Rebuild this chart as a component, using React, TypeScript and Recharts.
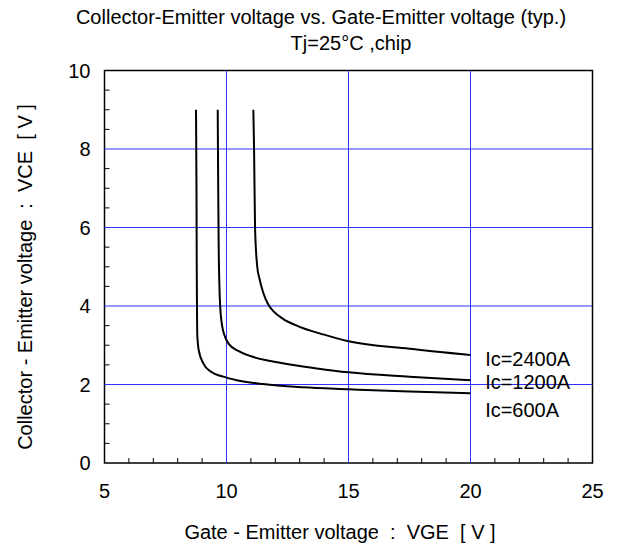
import React from 'react';
import {
  LineChart,
  Line,
  XAxis,
  YAxis,
  ReferenceLine,
  ReferenceArea,
  ReferenceDot,
} from 'recharts';

// axis ticks (minor + major)
const vgeTicks = [5, 6, 7, 8, 9, 10, 11, 12, 13, 14, 15, 16, 17, 18, 19, 20, 21, 22, 23, 24, 25];
const vceTicks = [0, 0.5, 1, 1.5, 2, 2.5, 3, 3.5, 4, 4.5, 5, 5.5, 6, 6.5, 7, 7.5, 8, 8.5, 9, 9.5, 10];
const vgeGrid = [10, 15, 20];
const vceGrid = [2, 4, 6, 8];

// Ic = 600A
const ic600Vge = [8.75, 8.77, 8.78, 8.79, 8.8, 8.86, 9.05, 9.35, 9.87, 10.42, 11.5, 13.14, 15.0, 17.5, 20.0];
const ic600Vce = [9.0, 7.0, 5.0, 4.0, 3.3, 2.88, 2.54, 2.33, 2.2, 2.11, 2.01, 1.93, 1.88, 1.82, 1.78];

// Ic = 1200A
const ic1200Vge = [9.64, 9.66, 9.68, 9.71, 9.75, 9.82, 9.92, 10.1, 10.5, 11.1, 11.8, 12.6, 13.7, 15.0, 17.5, 20.0];
const ic1200Vce = [9.0, 7.0, 5.5, 4.5, 3.9, 3.5, 3.25, 3.03, 2.85, 2.7, 2.6, 2.51, 2.41, 2.31, 2.2, 2.11];

// Ic = 2400A
const ic2400Vge = [11.1, 11.13, 11.17, 11.26, 11.35, 11.5, 11.7, 11.95, 12.3, 13.0, 14.0, 15.0, 17.5, 20.0];
const ic2400Vce = [9.0, 8.0, 6.0, 5.0, 4.7, 4.35, 4.05, 3.85, 3.68, 3.47, 3.27, 3.1, 2.91, 2.75];

const curveLabels = ['Ic=2400A', 'Ic=1200A', 'Ic=600A'];
const labelVge = [20.6, 20.6, 20.6];
const labelVce = [2.65, 2.06, 1.35];

const toPoints = (xs: number[], ys: number[]) => xs.map((x, i) => ({ vge: x, vce: ys[i] }));

const ic600 = toPoints(ic600Vge, ic600Vce);
const ic1200 = toPoints(ic1200Vge, ic1200Vce);
const ic2400 = toPoints(ic2400Vge, ic2400Vce);

const FONT = 'Arial, "Liberation Sans", sans-serif';
const GRID = '#3030ff';

function VgeTick({ x, y, payload }: any) {
  const v = payload.value;
  const major = v % 5 === 0;
  return (
    <g>
      {!major && <line x1={x} x2={x} y1={y} y2={y - 5} stroke="#000" strokeWidth={1} />}
      {major && (
        <text x={x} y={y + 35} textAnchor="middle" fontSize={20} fontFamily={FONT} fill="#000">
          {v}
        </text>
      )}
    </g>
  );
}

function VceTick({ x, y, payload }: any) {
  const v = payload.value;
  const major = v % 2 === 0;
  return (
    <g>
      {!major && <line x1={x} x2={x + 5} y1={y} y2={y} stroke="#000" strokeWidth={1} />}
      {major && (
        <text x={x - 14} y={y + 7} textAnchor="end" fontSize={20} fontFamily={FONT} fill="#000">
          {v}
        </text>
      )}
    </g>
  );
}

export default function App() {
  return (
    <div style={{ position: 'relative', width: 642, height: 553, margin: -8, background: '#fff' }}>
      <LineChart width={642} height={553} margin={{ top: 70.5, right: 49.5, bottom: 60, left: 44.5 }}>
        <XAxis
          type="number"
          dataKey="vge"
          domain={[5, 25]}
          ticks={vgeTicks}
          interval={0}
          axisLine={false}
          tickLine={false}
          tickSize={0}
          tickMargin={0}
          tick={<VgeTick />}
          height={30}
          allowDataOverflow
        />
        <YAxis
          type="number"
          dataKey="vce"
          domain={[0, 10]}
          ticks={vceTicks}
          interval={0}
          axisLine={false}
          tickLine={false}
          tickSize={0}
          tickMargin={0}
          tick={<VceTick />}
          width={60}
          allowDataOverflow
        />
        {vgeGrid.map((v) => (
          <ReferenceLine key={'gx' + v} x={v} stroke={GRID} strokeWidth={1} />
        ))}
        {vceGrid.map((v) => (
          <ReferenceLine key={'gy' + v} y={v} stroke={GRID} strokeWidth={1} />
        ))}
        <ReferenceArea x1={5} x2={25} y1={0} y2={10} fill="none" fillOpacity={0} stroke="#000" strokeWidth={1.5} strokeOpacity={1} />

        <Line data={ic600} dataKey="vce" type="monotone" stroke="#000" strokeWidth={2} dot={false} isAnimationActive={false} />
        <Line data={ic1200} dataKey="vce" type="monotone" stroke="#000" strokeWidth={2} dot={false} isAnimationActive={false} />
        <Line data={ic2400} dataKey="vce" type="monotone" stroke="#000" strokeWidth={2} dot={false} isAnimationActive={false} />

        {curveLabels.map((t, i) => (
          <ReferenceDot
            key={t}
            x={labelVge[i]}
            y={labelVce[i]}
            r={1}
            fill="none"
            stroke="none"
            label={{
              content: ({ viewBox }: any) => (
                <text x={viewBox.x + 1} y={viewBox.y + 1 + 7} fontSize={20} fontFamily={FONT} fill="#000">
                  {t}
                </text>
              ),
            }}
          />
        ))}
      </LineChart>
      <svg width={642} height={553} style={{ position: 'absolute', left: 0, top: 0, pointerEvents: 'none' }}>
        <g fontFamily={FONT} fontSize={20} fill="#000">
          <text x={321} y={24} textAnchor="middle">
            Collector-Emitter voltage vs. Gate-Emitter voltage (typ.)
          </text>
          <text x={351} y={50} textAnchor="middle">
            Tj=25°C ,chip
          </text>
          <text x={340} y={539} textAnchor="middle" xmlSpace="preserve">
            {'Gate - Emitter voltage  :  VGE  [ V ]'}
          </text>
          <text
            x={0}
            y={0}
            textAnchor="middle"
            dominantBaseline="central"
            transform="translate(25,277) rotate(-90)"
            xmlSpace="preserve"
          >
            {'Collector - Emitter voltage  :  VCE  [ V ]'}
          </text>
        </g>
      </svg>
    </div>
  );
}
